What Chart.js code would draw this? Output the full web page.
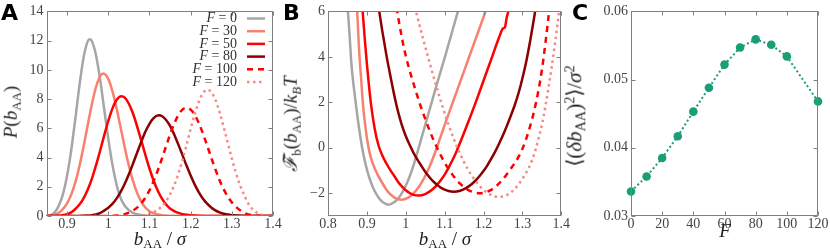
<!DOCTYPE html>
<html>
<head>
<meta charset="utf-8">
<script src="https://cdn.jsdelivr.net/npm/chart.js@4.4.0/dist/chart.umd.min.js"></script>
<style>
  html, body { margin: 0; padding: 0; background: #fff; }
  #fig { position: relative; width: 830px; height: 252px; overflow: hidden; }
  #fig canvas { position: absolute; top: 0; }
  .lbl { position: absolute; white-space: nowrap; font-family: "Liberation Serif", serif; font-size: 19px; line-height: 1; color: #222; }
  .lbl sub { font-size: 0.68em; vertical-align: -0.28em; font-style: normal; }
  .lbl sup { font-size: 0.68em; vertical-align: 0.5em; }
  .ctr { transform: translate(-50%, -50%); }
  .rot { transform: translate(-50%, -50%) rotate(-90deg); }
  .letter { position: absolute; font-family: "DejaVu Sans", sans-serif; font-weight: bold; font-size: 22px; line-height: 1; color: #000; }
</style>
</head>
<body>
<div id="fig">
  <canvas id="pa" width="290" height="252" style="left:0px"></canvas>
  <canvas id="pb" width="290" height="252" style="left:280px"></canvas>
  <canvas id="pc" width="270" height="252" style="left:560px"></canvas>

  <div class="letter" style="left:1px;top:2px">A</div>
  <div class="letter" style="left:283px;top:2px">B</div>
  <div class="letter" style="left:572px;top:2px">C</div>

  <div class="lbl rot" style="left:12px;top:112px"><i>P</i>(<i>b</i><sub>AA</sub>)</div>
  <div class="lbl ctr" style="left:160px;top:240px"><i>b</i><sub>AA</sub> / <i>σ</i></div>

  <div class="lbl rot" style="left:292px;top:124px"><i>ℱ̃</i><sub>b</sub>(<i>b</i><sub>AA</sub>)/<i>k</i><sub><i>B</i></sub><i>T</i></div>
  <div class="lbl ctr" style="left:445px;top:240px"><i>b</i><sub>AA</sub> / <i>σ</i></div>

  <div class="lbl rot" style="left:575px;top:116px;font-size:21px">⟨(<i>δb</i><sub>AA</sub>)<sup>2</sup>⟩/<i>σ</i><sup>2</sup></div>
  <div class="lbl ctr" style="left:725px;top:230px"><i>F</i></div>
</div>

<script>
// pulling forces shown in panels A and B
const forces = [0, 30, 50, 80, 100, 120];

// panel A: bond length distributions P(b_AA)
const aX0 = [0.85,0.86,0.87,0.88,0.89,0.90,0.91,0.92,0.93,0.94,0.95,0.955,0.96,0.97,0.98,0.99,1.00,1.01,1.02,1.03,1.04,1.05,1.06,1.07,1.08,1.09,1.10,1.12,1.15,1.40];
const aY0 = [0.01,0.05,0.25,0.72,1.5,2.75,4.5,6.65,8.92,10.84,11.95,12.1,11.98,11.04,9.38,7.34,5.29,3.52,2.16,1.22,0.7,0.4,0.22,0.12,0.07,0.04,0.02,0.006,0,0];
const aX30 = [0.85,0.86,0.87,0.88,0.89,0.90,0.91,0.92,0.93,0.94,0.95,0.96,0.97,0.98,0.988,1.00,1.01,1.02,1.03,1.04,1.05,1.06,1.07,1.08,1.09,1.10,1.11,1.12,1.13,1.14,1.16,1.20,1.40];
const aY30 = [0.005,0.02,0.08,0.22,0.48,0.87,1.46,2.30,3.41,4.75,6.21,7.63,8.81,9.56,9.75,9.38,8.55,7.39,6.05,4.69,3.45,2.40,1.58,0.99,0.58,0.33,0.2,0.1,0.05,0.025,0.006,0,0];
const aX50 = [0.85,0.87,0.88,0.89,0.90,0.91,0.92,0.93,0.94,0.95,0.96,0.97,0.98,0.99,1.00,1.01,1.02,1.032,1.04,1.05,1.06,1.07,1.08,1.09,1.10,1.11,1.12,1.13,1.14,1.15,1.16,1.17,1.18,1.19,1.20,1.22,1.25,1.40];
const aY50 = [0,0.005,0.02,0.05,0.12,0.25,0.48,0.78,1.21,1.79,2.54,3.44,4.45,5.50,6.50,7.35,7.94,8.2,8.10,7.68,7.01,6.14,5.17,4.19,3.25,2.43,1.74,1.20,0.80,0.51,0.34,0.21,0.13,0.08,0.05,0.02,0.005,0];
const aX80 = [0.85,0.93,0.95,0.96,0.97,0.98,0.99,1.00,1.01,1.02,1.03,1.04,1.05,1.06,1.07,1.08,1.09,1.10,1.11,1.123,1.13,1.14,1.15,1.16,1.17,1.18,1.19,1.20,1.21,1.22,1.23,1.24,1.25,1.26,1.27,1.28,1.29,1.30,1.31,1.32,1.35,1.40];
const aY80 = [0,0.005,0.03,0.06,0.11,0.2,0.37,0.57,0.83,1.19,1.65,2.21,2.86,3.58,4.33,5.07,5.76,6.31,6.70,6.89,6.84,6.59,6.16,5.58,4.90,4.18,3.45,2.77,2.15,1.62,1.18,0.84,0.58,0.38,0.25,0.155,0.10,0.06,0.04,0.02,0.005,0];
const aX100 = [0.85,0.99,1.00,1.01,1.02,1.03,1.04,1.05,1.06,1.07,1.08,1.09,1.10,1.11,1.12,1.13,1.14,1.15,1.16,1.17,1.18,1.19,1.20,1.21,1.22,1.23,1.24,1.25,1.26,1.27,1.28,1.29,1.30,1.31,1.32,1.33,1.34,1.35,1.36,1.37,1.38,1.40];
const aY100 = [0,0.003,0.01,0.02,0.04,0.08,0.13,0.23,0.37,0.57,0.86,1.25,1.75,2.37,3.10,3.90,4.75,5.57,6.31,6.90,7.28,7.41,7.28,6.92,6.35,5.63,4.83,4.00,3.20,2.47,1.85,1.33,0.93,0.63,0.40,0.22,0.11,0.05,0.02,0.01,0.005,0];
const aX120 = [0.85,1.06,1.07,1.08,1.09,1.10,1.11,1.12,1.13,1.14,1.15,1.16,1.17,1.18,1.19,1.20,1.21,1.22,1.23,1.241,1.25,1.26,1.27,1.28,1.29,1.30,1.31,1.32,1.33,1.34,1.35,1.36,1.37,1.38,1.39,1.40];
const aY120 = [0,0.005,0.012,0.03,0.07,0.15,0.26,0.42,0.66,1.0,1.48,2.1,2.88,3.8,4.85,5.95,6.97,7.82,8.41,8.64,8.48,7.96,7.14,6.12,5.02,3.93,2.94,2.10,1.44,0.85,0.48,0.24,0.1,0.04,0.015,0.005];

// panel B: free energy of the bond
const bX0 = [0.84,0.845,0.85,0.855,0.86,0.87,0.88,0.89,0.90,0.91,0.92,0.93,0.94,0.95,0.955,0.96,0.97,0.98,0.99,1.00,1.01,1.02,1.03,1.04,1.05,1.06,1.08,1.10,1.12,1.14];
const bY0 = [8.2,7.0,6.25,5.1,3.75,2.15,0.85,-0.2,-0.95,-1.5,-1.9,-2.19,-2.38,-2.48,-2.5,-2.49,-2.40,-2.24,-1.99,-1.67,-1.26,-0.77,-0.2,0.4,1.0,1.6,2.8,3.95,5.15,6.35];
const bX30 = [0.86,0.865,0.87,0.875,0.88,0.885,0.89,0.895,0.90,0.905,0.91,0.92,0.93,0.94,0.95,0.96,0.97,0.98,0.988,1.00,1.01,1.02,1.03,1.04,1.05,1.06,1.07,1.08,1.09,1.10,1.12,1.14,1.16,1.18,1.20,1.21];
const bY30 = [9.0,8.0,7.0,6.0,4.3,3.1,1.9,1.1,0.45,-0.05,-0.42,-0.9,-1.26,-1.56,-1.83,-2.04,-2.18,-2.26,-2.28,-2.24,-2.15,-2.0,-1.80,-1.55,-1.24,-0.88,-0.46,0.01,0.5,1.0,1.95,2.9,3.85,4.8,5.75,6.25];
const bX50 = [0.88,0.885,0.89,0.895,0.90,0.905,0.91,0.92,0.93,0.94,0.95,0.96,0.97,0.98,0.99,1.00,1.01,1.02,1.035,1.05,1.06,1.07,1.08,1.09,1.10,1.11,1.12,1.13,1.14,1.16,1.18,1.20,1.22,1.24,1.25,1.255,1.26,1.27];
const bY50 = [8.3,7.0,5.8,4.7,3.7,2.8,2.0,0.85,0.1,-0.35,-0.68,-0.97,-1.23,-1.49,-1.70,-1.87,-1.99,-2.07,-2.1,-2.035,-1.94,-1.81,-1.64,-1.43,-1.18,-0.88,-0.55,-0.18,0.23,1.1,2.0,2.95,3.9,4.85,5.25,5.3,5.75,6.3];
const bX80 = [0.92,0.93,0.94,0.95,0.96,0.97,0.98,0.99,1.00,1.01,1.02,1.03,1.04,1.05,1.06,1.07,1.08,1.09,1.10,1.11,1.123,1.14,1.15,1.16,1.17,1.18,1.19,1.20,1.21,1.22,1.23,1.24,1.25,1.26,1.27,1.28,1.29,1.30,1.31,1.32,1.33,1.34];
const bY80 = [7.4,6.2,5.1,4.1,3.2,2.35,1.6,1.0,0.52,0.13,-0.22,-0.52,-0.79,-1.05,-1.27,-1.47,-1.62,-1.75,-1.84,-1.90,-1.93,-1.89,-1.82,-1.72,-1.59,-1.43,-1.24,-1.02,-0.77,-0.48,-0.17,0.18,0.55,0.96,1.40,1.86,2.4,3.05,3.8,4.7,5.7,6.8];
const bX100 = [0.96,0.97,0.98,0.99,1.00,1.01,1.02,1.03,1.04,1.05,1.06,1.07,1.08,1.09,1.10,1.11,1.12,1.13,1.14,1.15,1.16,1.17,1.18,1.19,1.20,1.21,1.22,1.23,1.24,1.25,1.26,1.27,1.28,1.29,1.30,1.31,1.32,1.33,1.34,1.35,1.36,1.37,1.38];
const bY100 = [8.1,6.9,5.8,4.85,4.05,3.4,2.82,2.27,1.75,1.27,0.82,0.4,0.02,-0.33,-0.65,-0.93,-1.18,-1.40,-1.58,-1.73,-1.85,-1.93,-1.98,-2.0,-1.98,-1.93,-1.85,-1.73,-1.57,-1.38,-1.16,-0.92,-0.68,-0.4,-0.05,0.4,0.95,1.6,2.4,3.4,4.7,6.2,7.8];
const bX120 = [1.00,1.01,1.02,1.03,1.04,1.05,1.06,1.07,1.08,1.09,1.10,1.11,1.12,1.13,1.14,1.15,1.16,1.17,1.18,1.19,1.20,1.21,1.22,1.23,1.241,1.25,1.26,1.27,1.28,1.29,1.30,1.31,1.32,1.33,1.34,1.35,1.36,1.37,1.38,1.39,1.40];
const bY120 = [8.0,7.2,6.45,5.75,5.1,4.45,3.83,3.22,2.63,2.06,1.52,1.01,0.55,0.12,-0.27,-0.63,-0.95,-1.23,-1.47,-1.68,-1.85,-1.98,-2.08,-2.14,-2.16,-2.14,-2.08,-1.97,-1.81,-1.62,-1.37,-1.08,-0.75,-0.3,0.3,1.0,1.9,2.95,4.1,5.4,6.8];

// panel C: bond length variance against force
const cF = [0, 10, 20, 30, 40, 50, 60, 70, 80, 90, 100, 120];
const cVar = [0.0336, 0.0358, 0.0385, 0.0417, 0.0453, 0.0488, 0.0522, 0.0547, 0.0559, 0.0551, 0.0534, 0.0468];

// tick labels
const aXTicks = [0.9, 1.0, 1.1, 1.2, 1.3, 1.4];
const aYTicks = [0, 2, 4, 6, 8, 10, 12, 14];
const bXTicks = [0.8, 0.9, 1.0, 1.1, 1.2, 1.3, 1.4];
const bYTicks = [-2, 0, 2, 4, 6];
const cXTicks = [0, 20, 40, 60, 80, 100, 120];
const cYTicks = [0.03, 0.04, 0.05, 0.06];

const colors = ['#a6a6a6', '#f8806f', '#ff0000', '#8b0000', '#ff0000', '#f48a86'];
const dashes = [[], [], [], [], [6, 5], [2.5, 3.5]];
const green = '#1b9e77';
const tickFont = { family: '"Liberation Serif", serif', size: 14 };

function pts(xs, ys) {
  return xs.map((x, i) => ({ x: x, y: ys[i] }));
}

function curves(xsList, ysList) {
  return xsList.map((xs, i) => ({
    label: 'F = ' + forces[i],
    data: pts(xs, ysList[i]),
    borderColor: colors[i],
    borderWidth: 2.5,
    borderDash: dashes[i],
    pointRadius: 0,
    cubicInterpolationMode: 'monotone',
    fill: false,
    clip: 0,
    order: -i
  }));
}

function fmt(v) {
  return String(v).replace('-', '\u2212');
}

function axes(xr, xTicks, yr, yTicks, yWidth) {
  const common = {
    type: 'linear',
    grid: { display: false, drawTicks: false },
    border: { display: false },
  };
  return {
    x: Object.assign({}, common, {
      min: xr[0], max: xr[1],
      afterBuildTicks: s => { s.ticks = xTicks.map(v => ({ value: v })); },
      afterFit: s => { s.height = 36; },
      ticks: { font: tickFont, color: '#444', padding: 0, maxRotation: 0, autoSkip: false, callback: fmt }
    }),
    y: Object.assign({}, common, {
      min: yr[0], max: yr[1],
      afterBuildTicks: s => { s.ticks = yTicks.map(v => ({ value: v })); },
      afterFit: s => { s.width = yWidth; },
      ticks: { font: tickFont, color: '#444', padding: 3, autoSkip: false, callback: fmt }
    })
  };
}

// box round the plot with inward ticks on all four sides
const frame = {
  id: 'frame',
  afterDatasetsDraw(chart) {
    const { ctx, chartArea: a, scales } = chart;
    const L = Math.round(a.left) + 0.5, R = Math.round(a.right) - 0.5;
    const T = Math.round(a.top) + 0.5, B = Math.round(a.bottom) - 0.5;
    ctx.save();
    ctx.strokeStyle = '#808080';
    ctx.lineWidth = 1;
    ctx.setLineDash([]);
    ctx.strokeRect(L, T, R - L, B - T);
    ctx.beginPath();
    scales.x.ticks.forEach(t => {
      const p = Math.round(scales.x.getPixelForValue(t.value)) + 0.5;
      ctx.moveTo(p, B); ctx.lineTo(p, B - 4);
      ctx.moveTo(p, T); ctx.lineTo(p, T + 4);
    });
    scales.y.ticks.forEach(t => {
      const p = Math.round(scales.y.getPixelForValue(t.value)) + 0.5;
      ctx.moveTo(L, p); ctx.lineTo(L + 4, p);
      ctx.moveTo(R, p); ctx.lineTo(R - 4, p);
    });
    ctx.stroke();
    ctx.restore();
  }
};

// legend of panel A: text first, line sample after it
const legendA = {
  id: 'legendA',
  afterDraw(chart) {
    const ctx = chart.ctx;
    ctx.save();
    chart.data.datasets.forEach((ds, i) => {
      const y = 18.5 + i * 12.7;
      const rest = ' = ' + forces[i];
      ctx.textBaseline = 'middle';
      ctx.textAlign = 'right';
      ctx.fillStyle = '#333';
      ctx.font = '14px "Liberation Serif"';
      ctx.fillText(rest, 237, y);
      const w = ctx.measureText(rest).width;
      ctx.font = 'italic 14px "Liberation Serif"';
      ctx.fillText('F', 237 - w, y);
      ctx.strokeStyle = ds.borderColor;
      ctx.lineWidth = ds.borderWidth;
      ctx.setLineDash(ds.borderDash);
      ctx.beginPath();
      ctx.moveTo(247, y);
      ctx.lineTo(265, y);
      ctx.stroke();
    });
    ctx.restore();
  }
};

function baseOptions(pad, scales) {
  return {
    responsive: false,
    animation: false,
    devicePixelRatio: 1,
    events: [],
    layout: { padding: pad },
    plugins: { legend: { display: false }, tooltip: { enabled: false } },
    scales: scales
  };
}

new Chart(document.getElementById('pa'), {
  type: 'line',
  data: { datasets: curves([aX0, aX30, aX50, aX80, aX100, aX120], [aY0, aY30, aY50, aY80, aY100, aY120]) },
  options: baseOptions({ left: 0, top: 10.7, right: 17, bottom: 0 },
    axes([0.85, 1.4], aXTicks, [0, 14], aYTicks, 46.5)),
  plugins: [frame, legendA]
});

new Chart(document.getElementById('pb'), {
  type: 'line',
  data: { datasets: curves([bX0, bX30, bX50, bX80, bX100, bX120], [bY0, bY30, bY50, bY80, bY100, bY120]) },
  options: baseOptions({ left: 0, top: 10.7, right: 8, bottom: 0 },
    axes([0.8, 1.4], bXTicks, [-3, 6], bYTicks, 48)),
  plugins: [frame]
});

new Chart(document.getElementById('pc'), {
  type: 'line',
  data: {
    datasets: [{
      data: pts(cF, cVar),
      borderColor: green,
      borderWidth: 2,
      borderDash: [2, 2.5],
      pointRadius: 4.3,
      pointBorderWidth: 0,
      pointBackgroundColor: green,
      tension: 0,
      fill: false,
      clip: false
    }]
  },
  options: baseOptions({ left: 0, top: 10.7, right: 12, bottom: 0 },
    axes([0, 120], cXTicks, [0.03, 0.06], cYTicks, 71)),
  plugins: [frame]
});
</script>
</body>
</html>
